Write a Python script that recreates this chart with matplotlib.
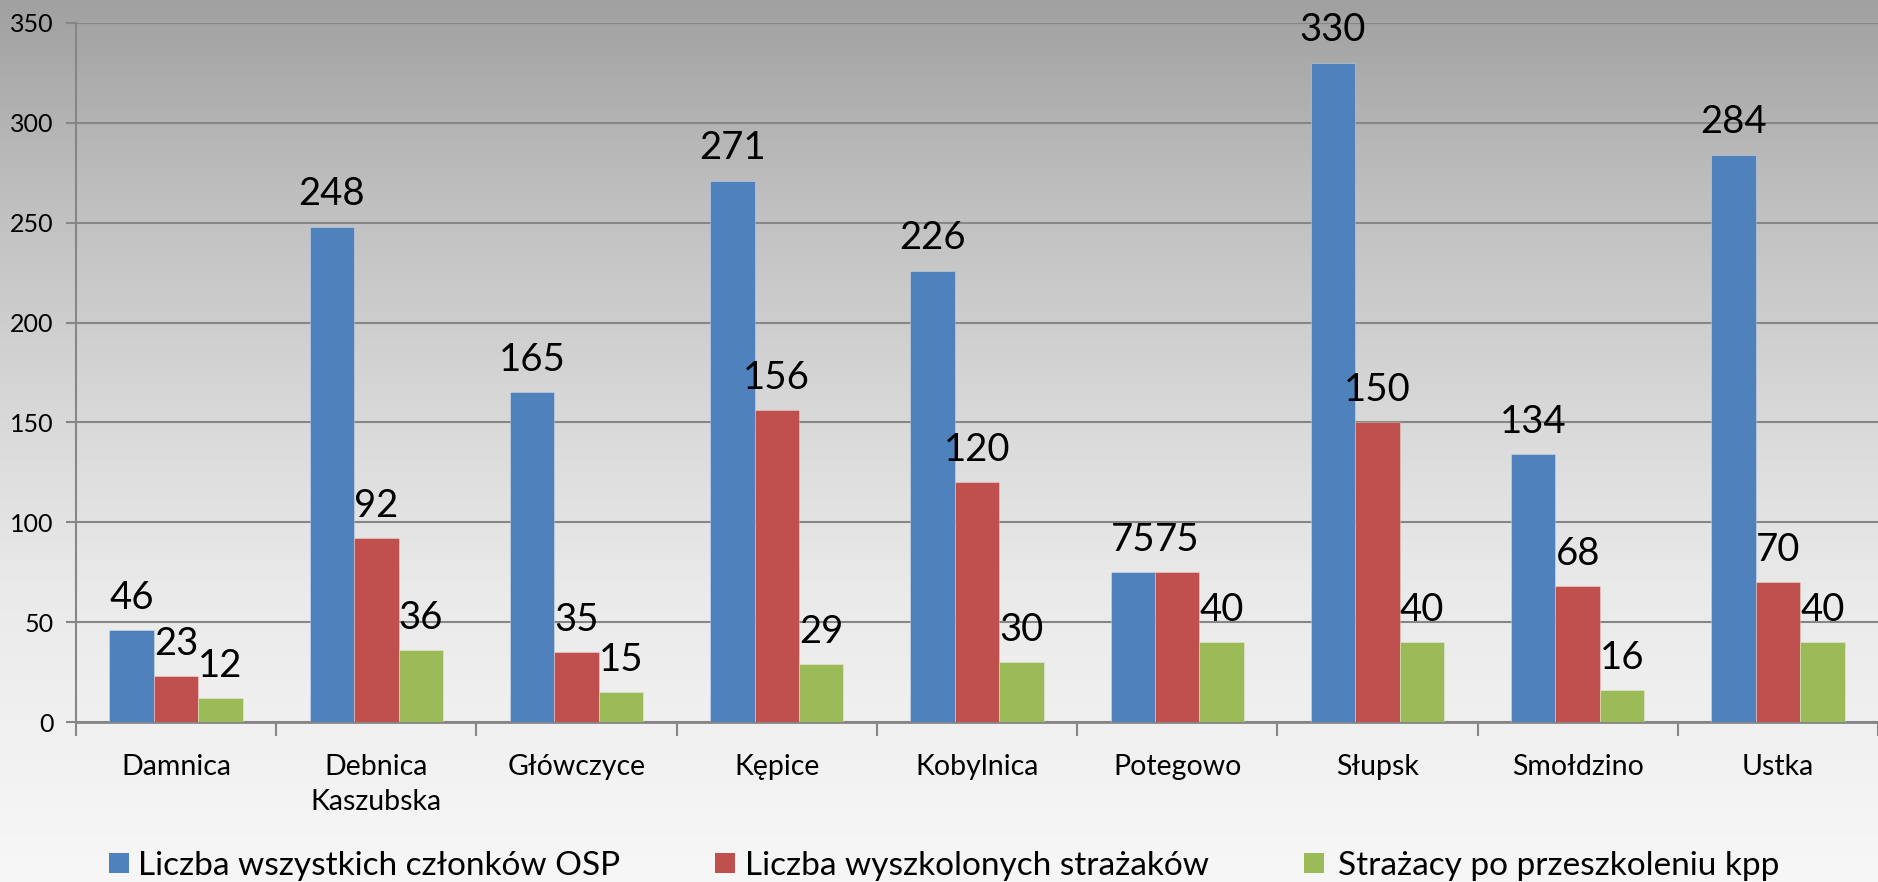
import numpy as np
import matplotlib
matplotlib.use("Agg")
import matplotlib.pyplot as plt
from matplotlib.patches import Rectangle

# ---- data ----
categories = ["Damnica", "Debnica\nKaszubska", "Główczyce", "Kępice", "Kobylnica",
              "Potegowo", "Słupsk", "Smołdzino", "Ustka"]
members_all = [46, 248, 165, 271, 226, 75, 330, 134, 284]
trained = [23, 92, 35, 156, 120, 75, 150, 68, 70]
kpp = [12, 36, 15, 29, 30, 40, 40, 16, 40]
series_names = ["Liczba wszystkich członków OSP", "Liczba wyszkolonych strażaków",
                "Strażacy po przeszkoleniu kpp"]
yticks = [0, 50, 100, 150, 200, 250, 300, 350]

colors = ["#4F81BD", "#C0504D", "#9BBB59"]
series = [members_all, trained, kpp]

plt.rcParams['font.family'] = ['Lato', 'DejaVu Sans']

W, H = 1878, 882
fig = plt.figure(figsize=(W / 100, H / 100), dpi=100)

# background gradient
bg = fig.add_axes([0, 0, 1, 1], zorder=-10)
ys = np.arange(H)
vals = np.interp(ys, [0, 190, 390, 590, 720, 882], [160, 190, 214, 234, 240, 247]) / 255.0
img = np.repeat(vals[:, None], 2, axis=1)
img = np.dstack([img, img, img])
bg.imshow(img, aspect='auto', extent=[0, 1, 0, 1], origin='upper')
bg.set_axis_off()

left_px, right_px, top_px, bot_px = 76, 1878, 23, 722
ax = fig.add_axes([left_px / W, 1 - bot_px / H, (right_px - left_px) / W, (bot_px - top_px) / H])
ax.set_facecolor('none')

x = np.arange(len(categories))
bw = 0.222
grid_c = "#868686"
for i, (vals_s, c) in enumerate(zip(series, colors)):
    pos = x + (i - 1) * bw
    ax.bar(pos, vals_s, width=bw, color=c, edgecolor=(1, 1, 1, 0.35), linewidth=0.6, zorder=3)
    for px, v in zip(pos, vals_s):
        ax.annotate(str(v), (px, v), xytext=(0, 15.5), textcoords='offset points',
                    ha='center', va='baseline', fontsize=27.5, color='black', zorder=4)

ax.set_xlim(-0.5, len(categories) - 0.5)
ax.set_ylim(0, 350)
ax.set_yticks(yticks)
ax.set_yticklabels([str(t) for t in yticks], fontsize=18)
ax.yaxis.grid(True, color=grid_c, linewidth=1.5, zorder=0)
ax.set_axisbelow(True)
ax.tick_params(axis='y', length=7, width=1.5, color=grid_c, pad=9)

ax.set_xticks(x)
ax.set_xticklabels(categories, fontsize=20.5, linespacing=1.45)
ax.tick_params(axis='x', which='major', length=0, pad=23)
ax.set_xticks(np.arange(-0.5, len(categories) + 0.5, 1), minor=True)
ax.tick_params(axis='x', which='minor', length=10, width=1.5, color=grid_c)

for s in ['top', 'right']:
    ax.spines[s].set_visible(False)
ax.spines['left'].set_color(grid_c)
ax.spines['left'].set_linewidth(1.5)
ax.spines['bottom'].set_color(grid_c)
ax.spines['bottom'].set_linewidth(2)

# legend (manual, Excel style)
sq_x = [109, 715, 1304]
txt_x = [138, 745, 1338]
sq = 20
for sx, tx, c, name in zip(sq_x, txt_x, colors, series_names):
    fig.patches.append(Rectangle((sx / W, (H - 873) / H), sq / W, sq / H,
                                 transform=fig.transFigure, facecolor=c, edgecolor='none'))
    fig.text(tx / W, (H - 875) / H, name, fontsize=24, ha='left', va='baseline', color='black')

fig.savefig("out.png", dpi=100)
